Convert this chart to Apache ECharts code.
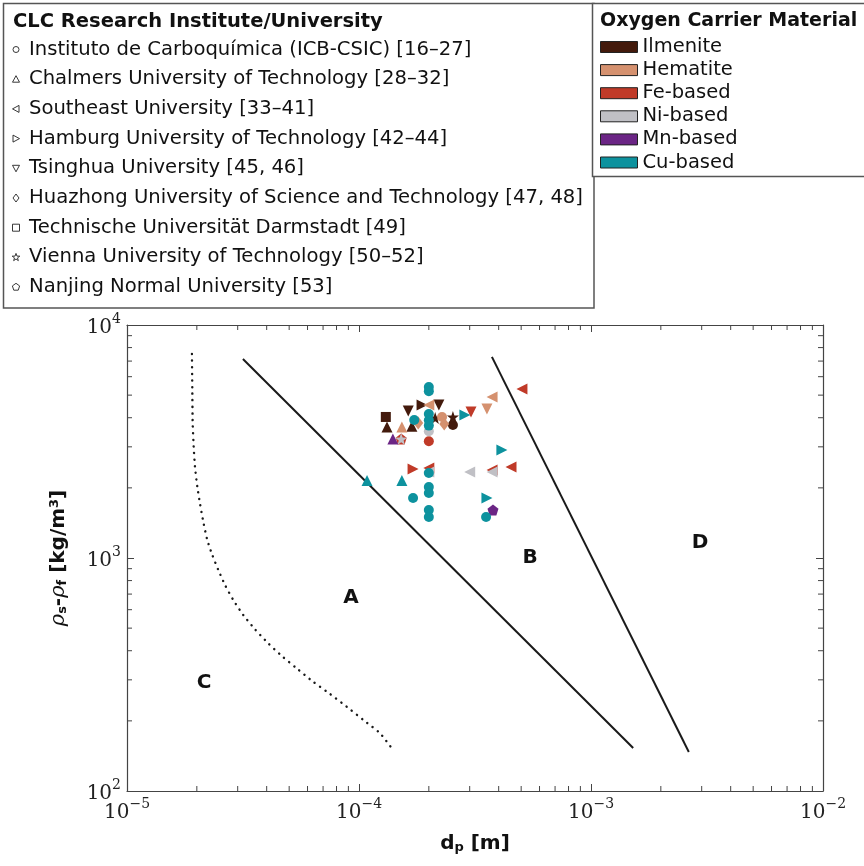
<!DOCTYPE html>
<html>
<head>
<meta charset="utf-8">
<script src="https://cdn.jsdelivr.net/npm/echarts@6/dist/echarts.min.js"></script>
<style>
html,body{margin:0;padding:0;background:#fff;}
#chart{width:864px;height:866px;}
</style>
</head>
<body>
<div id="chart"></div>
<script>
// oxygen carrier materials (legend order) and their colours
const materials=['Ilmenite','Hematite','Fe-based','Ni-based','Mn-based','Cu-based'];
const materialColors=['#431a0c','#d5916f','#c03a28','#c0c0c5','#6b2585','#0d929e'];

// points: [dp (m), rho_s - rho_f (kg/m3), material index]
const icbCsic=[
    [2.0e-4,5420,5],[2.0e-4,5200,5],[2.0e-4,4150,5],[2.0e-4,3900,5],[2.0e-4,3700,5],[1.73e-4,3910,5],
    [2.0e-4,3500,3],[2.0e-4,3170,2],[2.54e-4,3720,0],[2.28e-4,4030,1],
    [2.0e-4,2316,5],[2.0e-4,2017,5],[2.0e-4,1901,5],[1.71e-4,1809,5],[2.0e-4,1607,5],[2.0e-4,1500,5],[3.53e-4,1500,5]
];
const chalmers=[[1.32e-4,3650,0],[1.53e-4,3650,1],[1.40e-4,3240,4],[1.69e-4,3680,0],[1.083e-4,2150,5],[1.53e-4,2150,5]];
const southeast=[[2.0e-4,4535,1],[3.745e-4,4909,1],[5.04e-4,5312,2],[2.0e-4,2433,2],[2.0e-4,2339,3],[3.0e-4,2339,3],
    [3.745e-4,2385,2],[3.745e-4,2339,3],[4.52e-4,2458,2]];
const hamburg=[[1.87e-4,4535,0],[2.86e-4,4110,5],[4.13e-4,2908,5],[1.71e-4,2410,2],[3.56e-4,1809,5]];
const tsinghua=[[1.63e-4,4275,0],[2.21e-4,4535,0],[3.04e-4,4232,2],[3.56e-4,4360,1]];
const huazhong=[[1.80e-4,3797,1],[2.33e-4,3759,1]];
const darmstadt=[[1.305e-4,4030,0]];
const vienna=[[2.13e-4,3990,0],[2.54e-4,4030,0],[1.52e-4,3240,3]];
const nanjing=[[1.52e-4,3240,2],[3.78e-4,1607,4]];

// regime boundaries
const curveCA=[[1.905e-5,7507],[1.912e-5,5260],[1.919e-5,3786],[1.938e-5,3004],[1.963e-5,2465],[2.009e-5,2023],
    [2.063e-5,1717],[2.132e-5,1432],[2.218e-5,1195],[2.332e-5,1030],[2.475e-5,888],[2.645e-5,766],[2.872e-5,660],
    [3.172e-5,569],[3.563e-5,494],[4.064e-5,430],[4.643e-5,380],[5.389e-5,336],[6.353e-5,294],[7.499e-5,261],
    [8.851e-5,230],[1.043e-4,202],[1.232e-4,177],[1.388e-4,152]];
const lineAB=[[3.16e-5,7145],[1.52e-3,153]];
const lineBD=[[3.74e-4,7295],[2.64e-3,147]];
const regionLabels=[['A',9.24e-5,673],['B',5.46e-4,1000],['C',2.15e-5,291],['D',2.95e-3,1160]];

const starPath='path://M0,-10L2.35,-3.24L9.51,-3.09L3.8,1.24L5.88,8.09L0,4L-5.88,8.09L-3.8,1.24L-9.51,-3.09L-2.35,-3.24Z';
const pentPath='path://M0,-10L9.51,-3.09L5.88,8.09L-5.88,8.09L-9.51,-3.09Z';

const institutes=[
    {name:'Instituto de Carboquímica (ICB-CSIC) [16–27]',pts:icbCsic,symbol:'circle',rot:0,size:10},
    {name:'Chalmers University of Technology [28–32]',pts:chalmers,symbol:'triangle',rot:0,size:11},
    {name:'Southeast University [33–41]',pts:southeast,symbol:'triangle',rot:90,size:11},
    {name:'Hamburg University of Technology [42–44]',pts:hamburg,symbol:'triangle',rot:-90,size:11},
    {name:'Tsinghua University [45, 46]',pts:tsinghua,symbol:'triangle',rot:180,size:11},
    {name:'Huazhong University of Science and Technology [47, 48]',pts:huazhong,symbol:'diamond',rot:0,size:[10,13]},
    {name:'Technische Universität Darmstadt [49]',pts:darmstadt,symbol:'rect',rot:0,size:10},
    {name:'Vienna University of Technology [50–52]',pts:vienna,symbol:starPath,rot:0,size:12},
    {name:'Nanjing Normal University [53]',pts:nanjing,symbol:pentPath,rot:0,size:11}
];

const sansFont='DejaVu Sans';
const serifFont='DejaVu Serif';

const scatterSeries=materials.map((m,mi)=>{
    const data=[];
    institutes.forEach(inst=>{
        inst.pts.forEach(p=>{
            if(p[2]===mi){
                data.push({value:[p[0],p[1]],symbol:inst.symbol,symbolRotate:inst.rot,symbolSize:inst.size});
            }
        });
    });
    return {
        name:m,type:'scatter',data:data,z:3+mi,
        itemStyle:{color:materialColors[mi],opacity:1}
    };
});

// minor log ticks (2..9 x 10^k) on all four sides
const minorTicks=[];
for(let k=-5;k<=-3;k++){for(let m=2;m<=9;m++){minorTicks.push([m*Math.pow(10,k),100,0]);}}
for(let k=2;k<=3;k++){for(let m=2;m<=9;m++){minorTicks.push([1e-5,m*Math.pow(10,k),1]);}}

const tickColor='#444';
const minorLen=5;

const expLabel=v=>{
    const e=Math.round(Math.log10(v));
    return '{b|10}{e|'+(e<0?'−'+(-e):e)+'}';
};
const labelRich={
    b:{fontSize:20,fontFamily:serifFont,color:'#222',verticalAlign:'bottom',lineHeight:26},
    e:{fontSize:14,fontFamily:serifFont,color:'#222',verticalAlign:'top',lineHeight:26}
};

// institute legend (hollow outline markers)
const legendGraphics=[];
legendGraphics.push({type:'rect',shape:{x:3.5,y:3.5,width:590.5,height:304.5},style:{fill:'none',stroke:'#555',lineWidth:1.5}});
legendGraphics.push({type:'rect',shape:{x:592.5,y:3.5,width:275,height:173},style:{fill:'#fff',stroke:'#555',lineWidth:1.5}});
legendGraphics.push({type:'text',x:13,y:22,style:{text:'CLC Research Institute/University',font:'bold 19.5px '+sansFont,fill:'#111',verticalAlign:'middle'}});
legendGraphics.push({type:'text',x:600,y:21,style:{text:'Oxygen Carrier Material',font:'bold 19px '+sansFont,fill:'#111',verticalAlign:'middle'}});
const mk={fill:'#fff',stroke:'#222',lineWidth:0.9};
institutes.forEach((inst,i)=>{
    const cy=49.5+i*29.7, cx=16;
    let g;
    if(inst.symbol==='circle') g={type:'circle',shape:{cx:cx,cy:cy,r:3},style:mk};
    else if(inst.symbol==='triangle'){
        const pts=[[0,-3.5],[3.5,3],[-3.5,3]];
        const a=-inst.rot*Math.PI/180;
        g={type:'polygon',shape:{points:pts.map(p=>[cx+p[0]*Math.cos(a)-p[1]*Math.sin(a),cy+p[0]*Math.sin(a)+p[1]*Math.cos(a)])},style:mk};
    }
    else if(inst.symbol==='diamond') g={type:'polygon',shape:{points:[[cx,cy-4],[cx+3,cy],[cx,cy+4],[cx-3,cy]]},style:mk};
    else if(inst.symbol==='rect') g={type:'rect',shape:{x:cx-3.5,y:cy-3.5,width:7,height:7},style:mk};
    else if(inst.symbol===starPath){
        const pts=[];
        for(let j=0;j<10;j++){const r=j%2?1.6:4;const a=-Math.PI/2+j*Math.PI/5;pts.push([cx+r*Math.cos(a),cy+r*Math.sin(a)]);}
        g={type:'polygon',shape:{points:pts},style:mk};
    } else {
        const pts=[];
        for(let j=0;j<5;j++){const a=-Math.PI/2+j*2*Math.PI/5;pts.push([cx+3.8*Math.cos(a),cy+3.8*Math.sin(a)]);}
        g={type:'polygon',shape:{points:pts},style:mk};
    }
    legendGraphics.push(g);
    legendGraphics.push({type:'text',x:29,y:cy,style:{text:inst.name,font:'19.6px '+sansFont,fill:'#111',verticalAlign:'middle'}});
});

const option={
    backgroundColor:'#fff',
    animation:false,
    grid:{left:127,right:41,top:325,bottom:75},
    legend:{
        data:materials,orient:'vertical',left:600,top:37,padding:0,icon:'rect',
        itemWidth:37,itemHeight:11,itemGap:3.1,selectedMode:false,
        itemStyle:{borderColor:'#222',borderWidth:1},
        textStyle:{fontSize:19.5,fontFamily:sansFont,color:'#111',lineHeight:20}
    },
    graphic:legendGraphics,
    xAxis:[{
        type:'log',logBase:10,min:1e-5,max:1e-2,splitNumber:3,
        name:'{n|d}{s|p}{n| [m]}',nameLocation:'middle',nameGap:42,
        nameTextStyle:{rich:{
            n:{fontSize:20,fontWeight:'bold',fontFamily:sansFont,color:'#111'},
            s:{fontSize:13,fontWeight:'bold',fontFamily:sansFont,color:'#111',verticalAlign:'bottom',padding:[8,0,0,0]}
        }},
        axisLine:{show:true,lineStyle:{color:tickColor,width:1.2}},
        axisTick:{show:true,inside:true,length:7,lineStyle:{color:tickColor}},
        axisLabel:{formatter:expLabel,rich:labelRich,margin:6},
        splitLine:{show:false}
    },{
        type:'log',logBase:10,min:1e-5,max:1e-2,splitNumber:3,position:'top',
        axisLine:{show:true,lineStyle:{color:tickColor,width:1.2}},
        axisTick:{show:true,inside:true,length:7,lineStyle:{color:tickColor}},
        axisLabel:{show:false},splitLine:{show:false}
    }],
    yAxis:[{
        type:'log',logBase:10,min:100,max:10000,splitNumber:2,
        name:'{r|ρ}{s|s}{n|-}{r|ρ}{s|f}{n| [kg/m}{p|3}{n|]}',nameLocation:'middle',nameGap:58,nameRotate:90,
        nameTextStyle:{rich:{
            r:{fontSize:21,fontStyle:'italic',fontFamily:serifFont,color:'#111'},
            s:{fontSize:13,fontWeight:'bold',fontFamily:sansFont,color:'#111',verticalAlign:'bottom',padding:[8,0,0,0]},
            n:{fontSize:20,fontWeight:'bold',fontFamily:sansFont,color:'#111'},
            p:{fontSize:13,fontWeight:'bold',fontFamily:sansFont,color:'#111',verticalAlign:'top',padding:[0,0,8,0]}
        }},
        axisLine:{show:true,lineStyle:{color:tickColor,width:1.2}},
        axisTick:{show:true,inside:true,length:7,lineStyle:{color:tickColor}},
        axisLabel:{formatter:expLabel,rich:labelRich,margin:6},
        splitLine:{show:false}
    },{
        type:'log',logBase:10,min:100,max:10000,splitNumber:2,position:'right',
        axisLine:{show:true,lineStyle:{color:tickColor,width:1.2}},
        axisTick:{show:true,inside:true,length:7,lineStyle:{color:tickColor}},
        axisLabel:{show:false},splitLine:{show:false}
    }],
    series:[
        {
            type:'custom',silent:true,data:minorTicks,z:1,
            renderItem:(params,api)=>{
                const v0=api.value(0),v1=api.value(1),kind=api.value(2);
                const st={stroke:tickColor,lineWidth:1};
                if(kind===0){
                    const b=api.coord([v0,100]),t=api.coord([v0,10000]);
                    return {type:'group',children:[
                        {type:'line',shape:{x1:b[0],y1:b[1],x2:b[0],y2:b[1]-minorLen},style:st},
                        {type:'line',shape:{x1:t[0],y1:t[1],x2:t[0],y2:t[1]+minorLen},style:st}
                    ]};
                }
                const l=api.coord([1e-5,v1]),r=api.coord([1e-2,v1]);
                return {type:'group',children:[
                    {type:'line',shape:{x1:l[0],y1:l[1],x2:l[0]+minorLen,y2:l[1]},style:st},
                    {type:'line',shape:{x1:r[0],y1:r[1],x2:r[0]-minorLen,y2:r[1]},style:st}
                ]};
            }
        },
        {type:'line',data:curveCA,showSymbol:false,silent:true,smooth:0.2,z:2,
            lineStyle:{color:'#1a1a1a',width:2.4,type:[0.1,6.5],cap:'round'}},
        {type:'line',data:lineAB,showSymbol:false,silent:true,z:2,lineStyle:{color:'#1a1a1a',width:2}},
        {type:'line',data:lineBD,showSymbol:false,silent:true,z:2,lineStyle:{color:'#1a1a1a',width:2}},
        {type:'scatter',silent:true,symbolSize:0,z:2,itemStyle:{opacity:1},
            data:regionLabels.map(r=>({name:r[0],value:[r[1],r[2]]})),
            label:{show:true,position:[0,0],align:'center',verticalAlign:'middle',formatter:'{b}',opacity:1,
                fontSize:20,fontWeight:'bold',fontFamily:sansFont,color:'#111'}},
        ...scatterSeries
    ]
};

const chart=echarts.init(document.getElementById('chart'));
chart.setOption(option);
</script>
</body>
</html>
